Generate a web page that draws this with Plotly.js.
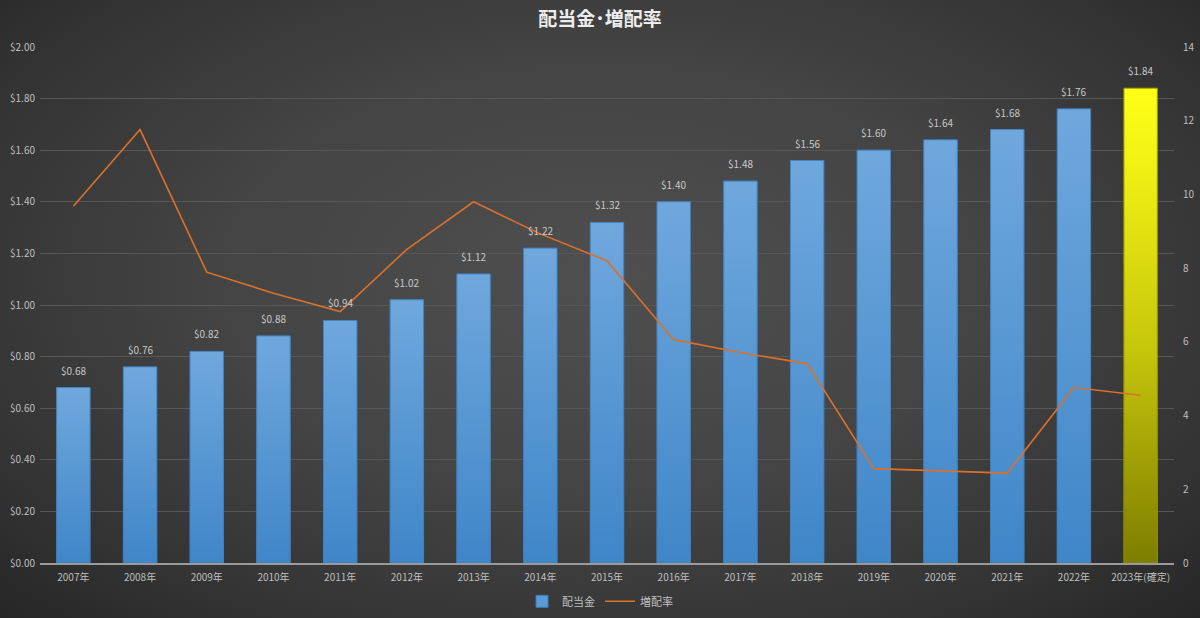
<!DOCTYPE html>
<html>
<head>
<meta charset="utf-8">
<script src="https://cdn.plot.ly/plotly-3.0.1.min.js"></script>
<style>
  html, body { margin: 0; padding: 0; }
  #myDiv {
    width: 1200px; height: 618px;
    background: radial-gradient(ellipse at 50% 45%, #4f4f4f 0%, #444444 45%, #333333 80%, #262626 100%);
  }
</style>
</head>
<body>
<div id="myDiv"></div>
<script>
// 年ごとの配当金と増配率
const years = ['2007年', '2008年', '2009年', '2010年', '2011年', '2012年', '2013年', '2014年', '2015年',
               '2016年', '2017年', '2018年', '2019年', '2020年', '2021年', '2022年', '2023年(確定)'];
const dividend = [0.68, 0.76, 0.82, 0.88, 0.94, 1.02, 1.12, 1.22, 1.32,
                  1.40, 1.48, 1.56, 1.60, 1.64, 1.68, 1.76, 1.84];
const growth = [9.68, 11.76, 7.89, 7.32, 6.82, 8.51, 9.80, 8.93, 8.20,
                6.06, 5.71, 5.41, 2.56, 2.50, 2.44, 4.76, 4.55];
const rightTicks = [0, 2, 4, 6, 8, 10, 12, 14];

const idx = years.map((_, i) => i);
const last = years.length - 1;
const barW = 0.5;

const font = "'Noto Sans CJK JP', 'Noto Sans', sans-serif";
const blueScale = [[0, '#3f86c8'], [1, '#70a8dd']];
const yellowScale = [[0, '#7d7d00'], [0.45, '#c6c60c'], [0.85, '#f2f214'], [1, '#ffff18']];

let bars = {
    type: 'bar',
    name: '配当金',
    x: idx,
    y: dividend,
    width: barW,
    marker: {
        color: idx.map(i => i == last ? '#e6e612' : '#5b9bd5'),
        line: {color: idx.map(i => i == last ? '#8a8a00' : '#3d7bb8'), width: 1}
    },
    hovertemplate: '$%{y:.2f}<extra></extra>'
};

// グラデーション (各棒の上に重ねる)
let shades = idx.map(i => ({
    type: 'scatter',
    mode: 'lines',
    x: [i - barW / 2, i + barW / 2, i + barW / 2, i - barW / 2, i - barW / 2],
    y: [0, 0, dividend[i], dividend[i], 0],
    fill: 'toself',
    fillgradient: {type: 'vertical', colorscale: i == last ? yellowScale : blueScale},
    line: {width: 0.8, color: i == last ? '#8f8f00' : '#3f7fbf'},
    showlegend: false,
    hoverinfo: 'skip'
}));

let line = {
    type: 'scatter',
    mode: 'lines',
    name: '増配率',
    x: idx,
    y: growth,
    yaxis: 'y2',
    line: {color: '#d9712b', width: 1.6},
    hovertemplate: '%{y:.2f}%<extra></extra>'
};

// 棒の上のラベル
let labels = idx.map(i => ({
    x: i,
    y: dividend[i],
    xref: 'x',
    yref: 'y',
    text: '$' + dividend[i].toFixed(2),
    showarrow: false,
    yanchor: 'bottom',
    yshift: 8,
    font: {size: 10, color: '#c8c8c8', family: font}
}));

let layout = {
    width: 1200,
    height: 618,
    paper_bgcolor: 'rgba(0,0,0,0)',
    plot_bgcolor: 'rgba(0,0,0,0)',
    margin: {l: 40, r: 26, t: 47, b: 55, autoexpand: false},
    font: {family: font, color: '#bfbfbf', size: 10},
    title: {
        text: '<b>配当金･増配率</b>',
        font: {size: 19, color: '#ececec', family: font},
        x: 0.5, xanchor: 'center',
        y: 0.968, yanchor: 'middle', yref: 'container'
    },
    showlegend: true,
    legend: {
        orientation: 'h',
        x: 0.5, xanchor: 'center', xref: 'container',
        y: 0.027, yanchor: 'middle', yref: 'container',
        font: {size: 11, color: '#bfbfbf', family: font},
        traceorder: 'normal',
        itemwidth: 30,
        bgcolor: 'rgba(0,0,0,0)'
    },
    annotations: labels,
    xaxis: {
        range: [-0.5, last + 0.5],
        tickmode: 'array',
        tickvals: idx,
        ticktext: years,
        ticks: '',
        ticklabelstandoff: 4,
        showgrid: false,
        zeroline: false,
        showline: true,
        linecolor: '#9a9a9a',
        linewidth: 1.5,
        tickfont: {size: 10, color: '#bfbfbf'},
        fixedrange: true
    },
    yaxis: {
        range: [0, 2.0],
        dtick: 0.2,
        tickprefix: '$',
        tickformat: '.2f',
        showgrid: true,
        gridcolor: '#575757',
        gridwidth: 1,
        zeroline: false,
        showline: false,
        ticks: '',
        ticklabelstandoff: 4,
        tickfont: {size: 10, color: '#bfbfbf'},
        fixedrange: true
    },
    yaxis2: {
        overlaying: 'y',
        side: 'right',
        range: [0, 14],
        tickmode: 'array',
        tickvals: rightTicks,
        showgrid: false,
        zeroline: false,
        showline: false,
        ticks: '',
        ticklabelstandoff: 8,
        tickfont: {size: 10, color: '#bfbfbf'},
        fixedrange: true
    }
};

Plotly.newPlot('myDiv', [bars].concat(shades, [line]), layout, {displayModeBar: false, staticPlot: true});
</script>
</body>
</html>
